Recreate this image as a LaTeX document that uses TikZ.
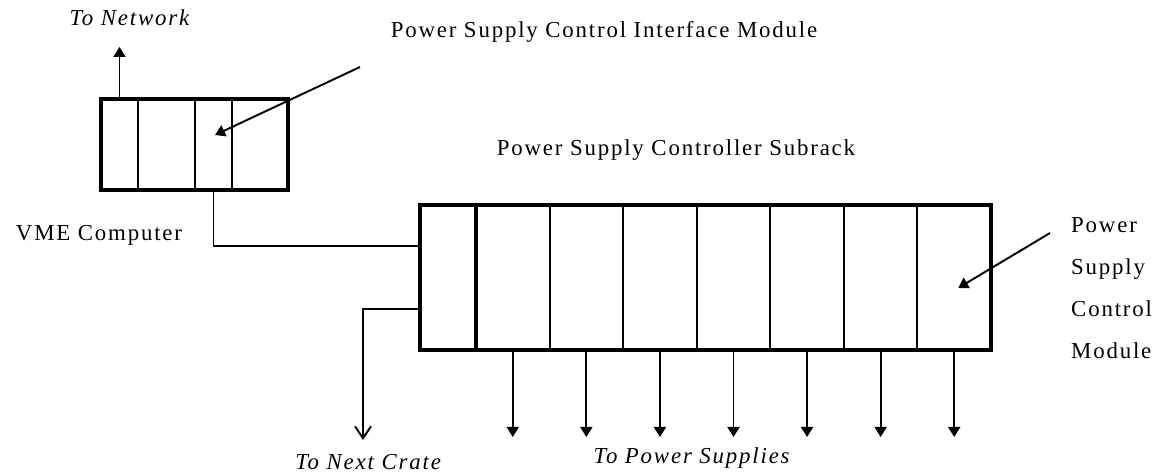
\documentclass[tikz,border=0pt]{standalone}
\usepackage{fontspec}
\setmainfont{Liberation Serif}[LetterSpace=8]
\usetikzlibrary{arrows.meta,calc}

\begin{document}
\begin{tikzpicture}[x=0.02cm, y=-0.02cm,
        font=\fontsize{13}{15}\selectfont,
        frame/.style={draw, line width=2.4pt, inner sep=0pt, outer sep=0pt},
        slot/.style={draw, line width=1.1pt, inner sep=0pt, outer sep=0pt},
        wire/.style={line width=1.1pt},
        arr/.style={wire, -{Triangle[width=0.24cm, length=0.2cm]}}]
    \useasboundingbox (0,0) rectangle (1160,475);

    % VME computer and its slots
    \node[slot, minimum width=0.74cm, minimum height=1.82cm] (vs1) at (119.5,144.5) {};
    \node[slot, minimum width=1.14cm, minimum height=1.82cm] (vs2) at (166.5,144.5) {};
    \node[slot, minimum width=0.74cm, minimum height=1.82cm] (vs3) at (213.5,144.5) {};
    \node[slot, minimum width=1.12cm, minimum height=1.82cm] (vs4) at (260,144.5) {};
    \node[frame, minimum width=3.74cm, minimum height=1.82cm] (vme) at (194.5,144.5) {};

    % Subrack: controller slot and seven modules
    \node[slot, minimum width=1.12cm, minimum height=2.9cm] (ctrl) at (448,277.5) {};
    \foreach \i in {1,...,7}
        \node[slot, minimum width=1.4714cm, minimum height=2.9cm] (m\i) at ({476+73.57*(\i-0.5)},277.5) {};
    \node[frame, minimum width=11.42cm, minimum height=2.9cm] (rack) at (705.5,277.5) {};
    \draw[line width=2.4pt] (ctrl.north east) -- (ctrl.south east);

    % Labels
    \node (netl) at (130.5,18) {\textit{To Network}};
    \node (ifl) at (604,32) {Power Supply Control Interface Module};
    \node (rackl) at (676,150) {Power Supply Controller Subrack};
    \node (vmel) at (99,235) {VME Computer};
    \node[anchor=west, align=left, font=\fontsize{13}{23.9}\selectfont] (modl) at (1065,288.5)
        {Power\\Supply\\Control\\Module};
    \node (cratel) at (369,462) {\textit{To Next Crate}};
    \node (psl) at (692.5,458) {\textit{To Power Supplies}};

    % Free ends
    \coordinate (netup) at (119.5,47);
    \coordinate (iftail) at (360,67);
    \coordinate (modtail) at (1050,233);
    \coordinate (crate) at (363,440);
    \coordinate (psend) at (0,437);

    % Connections
    \draw[arr] (vs1.north) -- (netup);
    \draw[arr] (iftail) -- ($(vs3.center)+(1.5,-9.5)$);
    \draw[arr] (modtail) -- ($(m7.center)+(4,10.5)$);
    \draw[wire] (vs3.south) |- ($(ctrl.north west)!0.28!(ctrl.south west)$);
    \draw[wire, -{Straight Barb[width=0.32cm, length=0.24cm]}]
        ($(ctrl.north west)!0.72!(ctrl.south west)$) -| (crate);
    \foreach \i in {1,...,7}
        \draw[arr] (m\i.south) -- (m\i.south |- psend);
\end{tikzpicture}
\end{document}
